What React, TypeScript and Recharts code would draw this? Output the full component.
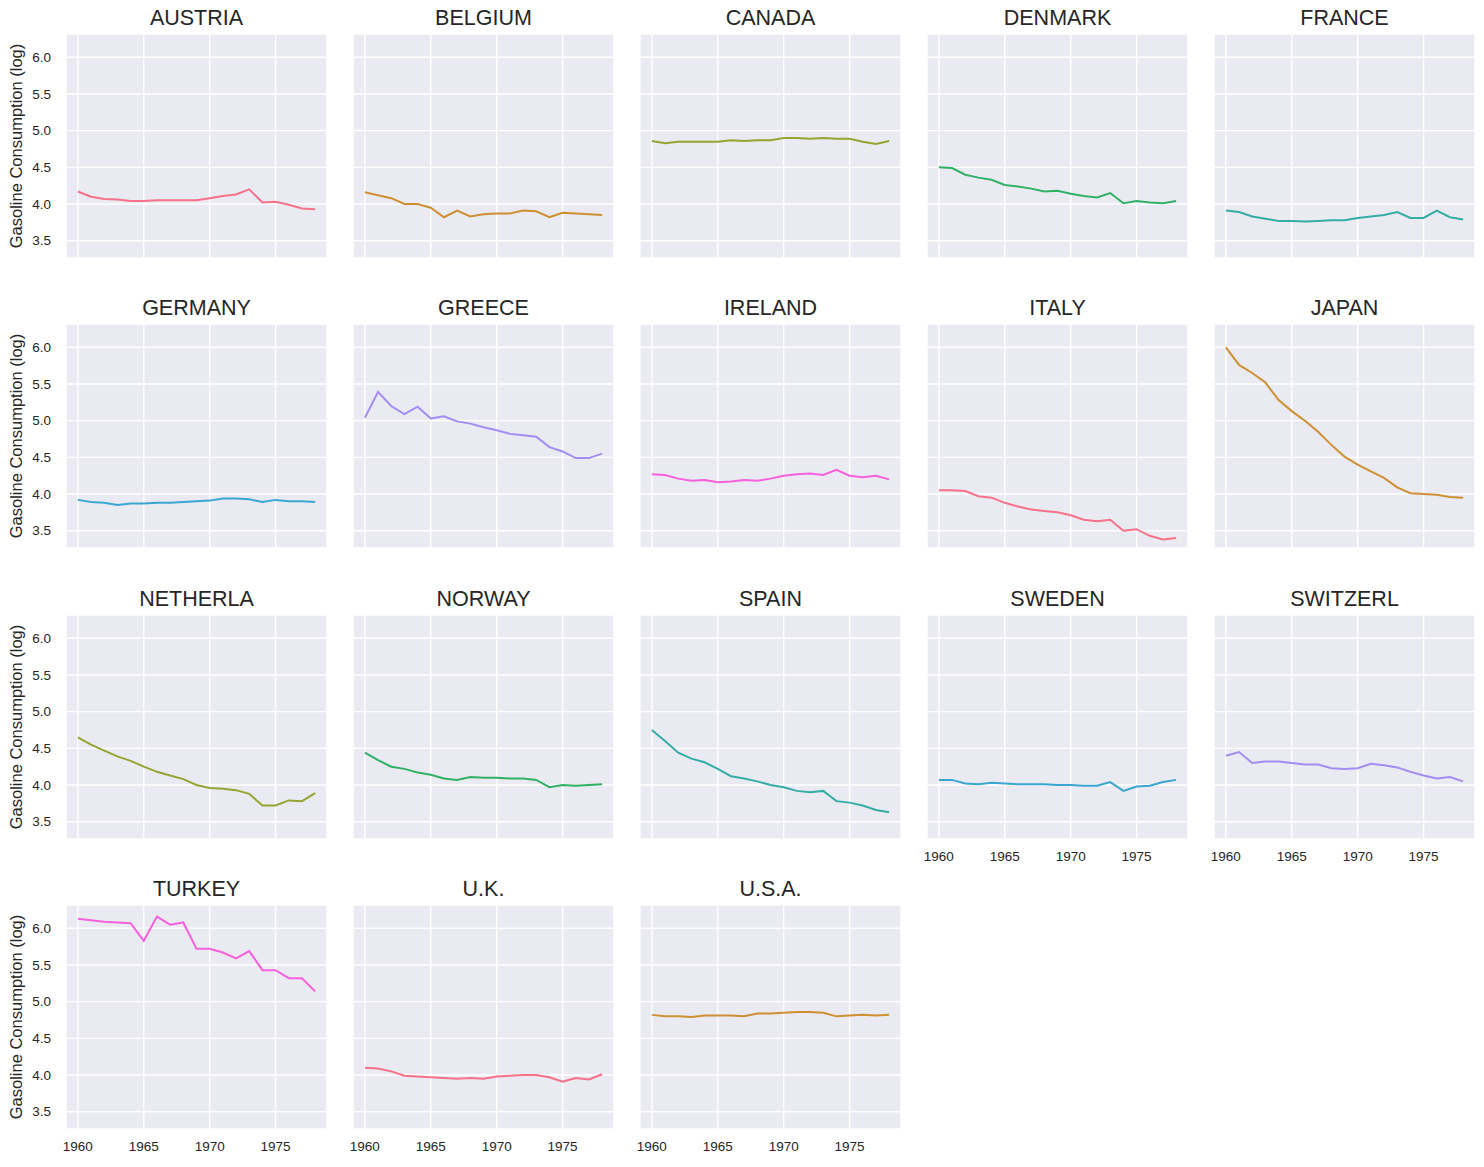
import React from 'react';
import { LineChart, Line, XAxis, YAxis, CartesianGrid } from 'recharts';

const YEARS = [1960, 1961, 1962, 1963, 1964, 1965, 1966, 1967, 1968, 1969, 1970, 1971, 1972, 1973, 1974, 1975, 1976, 1977, 1978];
const X_TICKS = [1960, 1965, 1970, 1975];
const Y_TICKS = [3.5, 4.0, 4.5, 5.0, 5.5, 6.0];

const COUNTRIES = ['AUSTRIA', 'BELGIUM', 'CANADA', 'DENMARK', 'FRANCE', 'GERMANY', 'GREECE', 'IRELAND', 'ITALY', 'JAPAN', 'NETHERLA', 'NORWAY', 'SPAIN', 'SWEDEN', 'SWITZERL', 'TURKEY', 'U.K.', 'U.S.A.'];

const PALETTE = ['#f77189', '#ce9032', '#97a431', '#32b166', '#36ada4', '#39a7d0', '#a48cf4', '#f561dd'];

const austria = [4.17, 4.10, 4.07, 4.06, 4.04, 4.04, 4.05, 4.05, 4.05, 4.05, 4.08, 4.11, 4.13, 4.20, 4.02, 4.03, 3.99, 3.94, 3.93];
const belgium = [4.16, 4.12, 4.08, 4.00, 4.00, 3.95, 3.82, 3.91, 3.83, 3.86, 3.87, 3.87, 3.91, 3.90, 3.82, 3.88, 3.87, 3.86, 3.85];
const canada = [4.86, 4.83, 4.85, 4.85, 4.85, 4.85, 4.87, 4.86, 4.87, 4.87, 4.90, 4.90, 4.89, 4.90, 4.89, 4.89, 4.85, 4.82, 4.86];
const denmark = [4.50, 4.49, 4.40, 4.36, 4.33, 4.26, 4.24, 4.21, 4.17, 4.18, 4.14, 4.11, 4.09, 4.15, 4.01, 4.04, 4.02, 4.01, 4.04];
const france = [3.91, 3.89, 3.83, 3.80, 3.77, 3.77, 3.76, 3.77, 3.78, 3.78, 3.81, 3.83, 3.85, 3.89, 3.81, 3.81, 3.91, 3.82, 3.79];
const germany = [3.92, 3.89, 3.88, 3.85, 3.87, 3.87, 3.88, 3.88, 3.89, 3.90, 3.91, 3.94, 3.94, 3.93, 3.89, 3.92, 3.90, 3.90, 3.89];
const greece = [5.04, 5.39, 5.20, 5.09, 5.19, 5.03, 5.06, 4.99, 4.96, 4.91, 4.87, 4.82, 4.80, 4.78, 4.64, 4.58, 4.49, 4.49, 4.55];
const ireland = [4.27, 4.26, 4.21, 4.18, 4.19, 4.16, 4.17, 4.19, 4.18, 4.21, 4.25, 4.27, 4.28, 4.26, 4.33, 4.25, 4.23, 4.25, 4.20];
const italy = [4.05, 4.05, 4.04, 3.97, 3.95, 3.88, 3.83, 3.79, 3.77, 3.75, 3.71, 3.65, 3.63, 3.65, 3.50, 3.52, 3.43, 3.38, 3.40];
const japan = [6.00, 5.76, 5.65, 5.52, 5.28, 5.13, 5.00, 4.85, 4.67, 4.51, 4.40, 4.31, 4.22, 4.09, 4.01, 4.00, 3.99, 3.96, 3.95];
const netherlands = [4.65, 4.55, 4.47, 4.39, 4.33, 4.25, 4.18, 4.13, 4.08, 4.00, 3.96, 3.95, 3.93, 3.88, 3.72, 3.72, 3.79, 3.78, 3.89];
const norway = [4.44, 4.34, 4.25, 4.22, 4.17, 4.14, 4.09, 4.07, 4.11, 4.10, 4.10, 4.09, 4.09, 4.07, 3.97, 4.00, 3.99, 4.00, 4.01];
const spain = [4.75, 4.60, 4.44, 4.36, 4.31, 4.22, 4.12, 4.09, 4.05, 4.00, 3.97, 3.92, 3.90, 3.92, 3.78, 3.76, 3.72, 3.66, 3.63];
const sweden = [4.07, 4.07, 4.02, 4.01, 4.03, 4.02, 4.01, 4.01, 4.01, 4.00, 4.00, 3.99, 3.99, 4.04, 3.92, 3.98, 3.99, 4.04, 4.07];
const switzerland = [4.40, 4.45, 4.30, 4.32, 4.32, 4.30, 4.28, 4.28, 4.23, 4.22, 4.23, 4.29, 4.27, 4.24, 4.18, 4.13, 4.09, 4.11, 4.05];
const turkey = [6.13, 6.11, 6.09, 6.08, 6.07, 5.83, 6.16, 6.05, 6.08, 5.72, 5.72, 5.67, 5.59, 5.69, 5.43, 5.43, 5.32, 5.32, 5.14];
const uk = [4.10, 4.09, 4.05, 3.99, 3.98, 3.97, 3.96, 3.95, 3.96, 3.95, 3.98, 3.99, 4.00, 4.00, 3.97, 3.91, 3.96, 3.94, 4.01];
const usa = [4.82, 4.80, 4.80, 4.79, 4.81, 4.81, 4.81, 4.80, 4.84, 4.84, 4.85, 4.86, 4.86, 4.85, 4.80, 4.81, 4.82, 4.81, 4.82];

const SERIES = [austria, belgium, canada, denmark, france, germany, greece, ireland, italy, japan, netherlands, norway, spain, sweden, switzerland, turkey, uk, usa];

const FONT = '"Liberation Sans", Arial, "DejaVu Sans", sans-serif';
const TEXT = '#262626';

const PLOT_W = 261;
const PLOT_H = 224;
const LEFT_PAD = 66;
const TOP_PAD = 34;
const BOTTOM_PAD = 34;

const EmptyTick = () => <g />;

function Panel({ idx }: { idx: number }) {
  const col = idx % 5;
  const row = Math.floor(idx / 5);
  const px = 66 + col * 287;
  const py = 34 + row * 290.3;
  const showY = col === 0;
  const showX = row === 3 || (row === 2 && col >= 3);
  const color = PALETTE[idx % 8];
  const data = YEARS.map((y, i) => ({ year: y, v: SERIES[idx][i] }));
  const tickStyle = { fill: TEXT, fontSize: 13.5, fontFamily: FONT };
  return (
    <>
      <div
        style={{
          position: 'absolute',
          left: px,
          top: py - 29,
          width: PLOT_W,
          textAlign: 'center',
          fontFamily: FONT,
          fontSize: 21.5,
          color: TEXT,
          lineHeight: '26px',
        }}
      >
        {COUNTRIES[idx]}
      </div>
      {showY && (
        <div
          style={{
            position: 'absolute',
            left: 15.5 - 120,
            top: py + PLOT_H / 2 - 10,
            width: 240,
            height: 20,
            lineHeight: '20px',
            textAlign: 'center',
            transform: 'rotate(-90deg)',
            fontFamily: FONT,
            fontSize: 16.5,
            color: TEXT,
            whiteSpace: 'nowrap',
          }}
        >
          Gasoline Consumption (log)
        </div>
      )}
      <div style={{ position: 'absolute', left: px - LEFT_PAD, top: py - TOP_PAD }}>
        <LineChart
          width={LEFT_PAD + PLOT_W + 4}
          height={TOP_PAD + PLOT_H + BOTTOM_PAD}
          data={data}
          margin={{ top: TOP_PAD, right: 4, bottom: 0, left: 0 }}
        >
          <CartesianGrid fill="#eaeaf2" stroke="#ffffff" strokeWidth={1.4} />
          <XAxis
            dataKey="year"
            type="number"
            domain={[1959.1, 1978.9]}
            ticks={X_TICKS}
            allowDataOverflow
            axisLine={false}
            tickLine={false}
            tickSize={0}
            tickMargin={12}
            height={BOTTOM_PAD}
            tick={showX ? tickStyle : EmptyTick}
          />
          <YAxis
            type="number"
            domain={[3.264, 6.318]}
            ticks={Y_TICKS}
            allowDataOverflow
            axisLine={false}
            tickLine={false}
            tickSize={0}
            tickMargin={15}
            width={LEFT_PAD}
            tick={showY ? tickStyle : EmptyTick}
            tickFormatter={(v: number) => v.toFixed(1)}
          />
          <Line
            type="linear"
            dataKey="v"
            stroke={color}
            strokeWidth={2}
            dot={false}
            activeDot={false}
            isAnimationActive={false}
          />
        </LineChart>
      </div>
    </>
  );
}

export default function App() {
  return (
    <div
      style={{
        position: 'absolute',
        left: 0,
        top: 0,
        width: 1484,
        height: 1167,
        background: '#ffffff',
        overflow: 'hidden',
      }}
    >
      {COUNTRIES.map((_, i) => (
        <Panel key={i} idx={i} />
      ))}
    </div>
  );
}
